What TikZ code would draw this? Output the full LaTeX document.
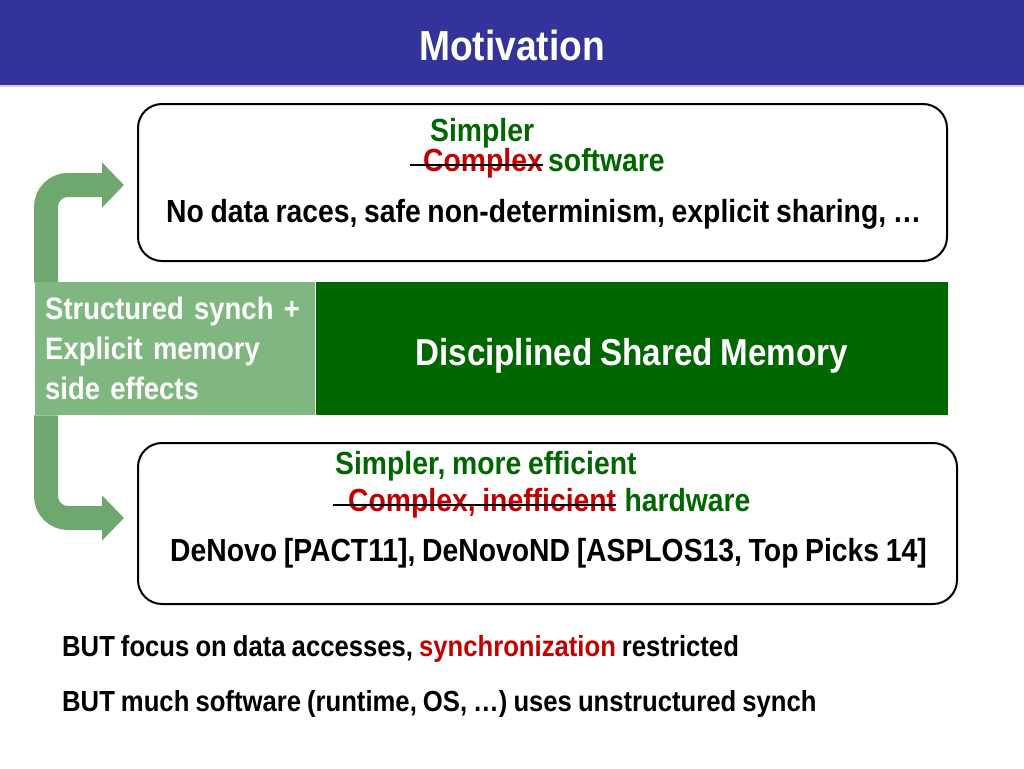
\documentclass[tikz,border=0pt]{standalone}
\usepackage{fontspec}
\setmainfont[FakeStretch=0.885,WordSpace=0.85]{Liberation Sans}
\usetikzlibrary{arrows.meta,positioning}
\definecolor{titleblue}{RGB}{51,51,153}
\definecolor{darkgreen}{RGB}{0,102,0}
\definecolor{palegreen}{RGB}{128,183,128}
\definecolor{arrowgreen}{RGB}{110,168,110}
\definecolor{crossred}{RGB}{192,0,0}

\begin{document}
\begin{tikzpicture}[
    x=1pt, y=-1pt,
    box/.style={draw=black, line width=2pt, rounded corners=24pt, inner sep=0pt},
    txt/.style={font=\bfseries\fontsize{32}{38}\selectfont, inner sep=0pt, text height=24pt, text depth=7pt},
    small/.style={font=\bfseries\fontsize{29}{34}\selectfont, inner sep=0pt},
    good/.style={txt, text=darkgreen},
    bad/.style={txt, text=crossred},
    strike/.style={draw=black, line width=2pt},
    panel/.style={minimum height=133pt, inner sep=0pt, text=white},
    bigarrow/.style={draw=arrowgreen, line width=24pt, rounded corners=22pt, -{Triangle[length=22pt,width=44pt]}, shorten >=13pt}
]
\useasboundingbox (0,0) rectangle (1024,768);

% Title
\fill[titleblue] (0,0) rectangle (1024,85);
\draw[blue!20, line width=1.5pt] (0,86) -- (1024,86);
\node[font=\bfseries\fontsize{42}{48}\selectfont, text=white] (title) at (512,45) {Motivation};

% Nodes
\node[box, minimum width=809pt, minimum height=157pt] (sw) at (542.5,182.5) {};
\node[good, anchor=west] (simpler1) at (430,133) {Simpler};
\node[bad, anchor=west] (complex1) at (423,163) {Complex};
\node[good, right=5pt of complex1] (software) {software};
\node[txt, anchor=west] (swlist) at (166,214) {No data races, safe non-determinism, explicit sharing, …};

\node[panel, fill=palegreen, minimum width=280pt, text width=260pt, align=left, anchor=north west,
      font=\bfseries\fontsize{31}{40}\selectfont] (synch) at (35,282) {Structured synch +\\Explicit memory\\side effects};
\node[panel, fill=darkgreen, minimum width=632pt, right=0pt of synch, text height=33pt, text depth=0pt,
      font=\bfseries\fontsize{37.5}{42}\selectfont] (dsm) {Disciplined Shared Memory};

\node[box, minimum width=819pt, minimum height=161pt] (hw) at (547.5,523.5) {};
\node[good, anchor=west] (simpler2) at (335,466) {Simpler, more efficient};
\node[bad, anchor=west] (complex2) at (348,503) {Complex, inefficient};
\node[good, right=8pt of complex2] (hardware) {hardware};
\node[txt, anchor=west] (hwlist) at (170,553) {DeNovo [PACT11], DeNovoND [ASPLOS13, Top Picks 14]};

\node[small, anchor=west] (but1) at (62,649) {BUT focus on data accesses, \textcolor{crossred}{synchronization} restricted};
\node[small, anchor=west] (but2) at (62,704) {BUT much software (runtime, OS, …) uses unstructured synch};

% Strikes
\draw[strike] ([xshift=-13pt,yshift=-2pt]complex1.west) -- ([yshift=-2pt]complex1.east);
\draw[strike] ([xshift=-15pt,yshift=-2pt]complex2.west) -- ([yshift=-2pt]complex2.east);

% Arrows
\draw[bigarrow] ([xshift=11pt]synch.north west) |- ([yshift=-2.5pt]sw.west);
\draw[bigarrow] ([xshift=11pt]synch.south west) |- ([yshift=5.5pt]hw.west);

\end{tikzpicture}
\end{document}
